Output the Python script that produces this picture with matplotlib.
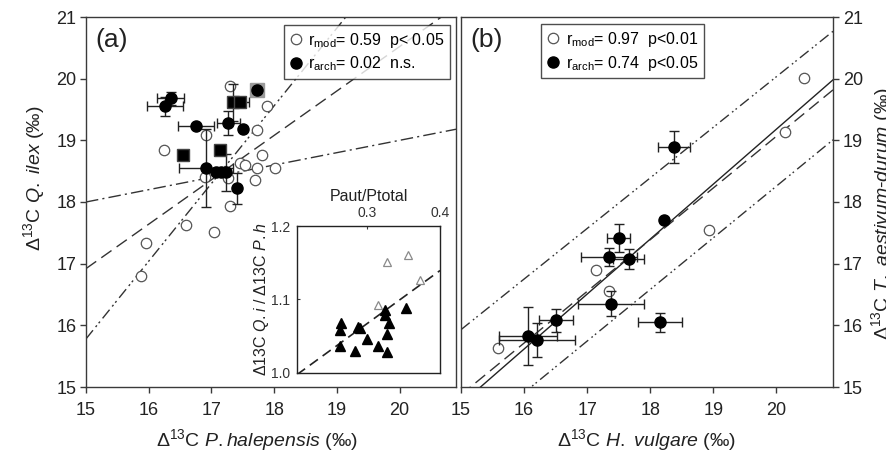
import numpy as np
import matplotlib
matplotlib.use("Agg")
import matplotlib.pyplot as plt
from matplotlib.lines import Line2D

plt.rcParams['font.family'] = ['Liberation Sans', 'DejaVu Sans']
plt.rcParams['mathtext.fontset'] = 'custom'
plt.rcParams['mathtext.rm'] = 'Liberation Sans'
plt.rcParams['mathtext.it'] = 'Liberation Sans:italic'

# ---------------- data: panel (a) ----------------
mod_a_x = [17.29, 17.88, 17.73, 16.91, 16.24, 17.80, 17.46, 17.54, 17.72, 18.01,
           16.90, 17.27, 17.70, 17.29, 16.60, 17.04, 15.96, 15.88]
mod_a_y = [19.88, 19.56, 19.16, 19.09, 18.84, 18.76, 18.63, 18.60, 18.55, 18.55,
           18.41, 18.39, 18.36, 17.93, 17.63, 17.51, 17.33, 16.80]

arch_a_x = [16.35, 16.26, 17.73, 16.75, 17.27, 17.51, 16.91, 17.07, 17.16, 17.24, 17.41]
arch_a_y = [19.68, 19.55, 19.81, 19.23, 19.28, 19.18, 18.55, 18.48, 18.48, 18.48, 18.22]
arch_a_xerr = [0.21, 0.28, 0.0, 0.29, 0.18, 0.0, 0.43, 0.0, 0.0, 0.0, 0.0]
arch_a_yerr = [0.10, 0.15, 0.0, 0.0, 0.19, 0.0, 0.63, 0.0, 0.0, 0.30, 0.25]

archsq_a_x = [16.55, 17.13, 17.35, 17.45]
archsq_a_y = [18.76, 18.84, 19.62, 19.62]
archsq_a_xerr = [0.0, 0.0, 0.0, 0.15]
archsq_a_yerr = [0.0, 0.0, 0.30, 0.0]

# regression / reference lines (intercept at x=15, slope)
lines_a_icpt = [18.00, 16.92, 15.78]
lines_a_slope = [0.20, 0.72, 1.26]

# ---------------- data: panel (b) ----------------
mod_b_x = [20.44, 20.14, 18.93, 17.14, 17.35, 15.58]
mod_b_y = [20.01, 19.14, 17.55, 16.90, 16.55, 15.63]

arch_b_x = [18.38, 18.22, 17.50, 17.35, 17.66, 17.38, 18.15, 16.51, 16.07, 16.21]
arch_b_y = [18.89, 17.71, 17.42, 17.11, 17.07, 16.35, 16.05, 16.08, 15.82, 15.76]
arch_b_xerr = [0.25, 0.0, 0.18, 0.44, 0.25, 0.53, 0.35, 0.27, 0.46, 0.60]
arch_b_yerr = [0.26, 0.0, 0.23, 0.15, 0.16, 0.20, 0.15, 0.18, 0.47, 0.27]

# lines: intercept at x=15, slope  (solid fit, dashed, upper CI, lower CI)
lines_b_icpt = [14.724, 14.874, 15.93, 14.07]
lines_b_slope = [0.891, 0.838, 0.820, 0.837]

# ---------------- data: inset ----------------
ins_mod_x = [0.328, 0.356, 0.373, 0.315]
ins_mod_y = [1.151, 1.161, 1.127, 1.093]
ins_arch_x = [0.325, 0.325, 0.354, 0.331, 0.328, 0.265, 0.263, 0.288, 0.291,
              0.300, 0.315, 0.263, 0.284, 0.328]
ins_arch_y = [1.086, 1.079, 1.089, 1.068, 1.053, 1.068, 1.059, 1.062, 1.061,
              1.046, 1.037, 1.037, 1.030, 1.028]
ins_line_icpt = 1.0      # at x = 0.208
ins_line_x0 = 0.208
ins_line_slope = 0.726

xticks_main = [15, 16, 17, 18, 19, 20]
yticks_main = [15, 16, 17, 18, 19, 20, 21]

legend_a = [r"r$_{\mathrm{mod}}$= 0.59  p< 0.05", r"r$_{\mathrm{arch}}$= 0.02  n.s."]
legend_b = [r"r$_{\mathrm{mod}}$= 0.97  p<0.01", r"r$_{\mathrm{arch}}$= 0.74  p<0.05"]

# ---------------- figure ----------------
W, H = 886, 459
fig = plt.figure(figsize=(W / 100, H / 100), dpi=100)

def fx(px):
    return px / W

def fy(py):
    return 1 - py / H

spine_col = '#3a3a3a'
txt_col = '#222222'
XL = (15, 20.9)
YL = (15, 21)

ax_a = fig.add_axes([fx(86), fy(387), (456 - 86) / W, (387 - 17) / H])
ax_b = fig.add_axes([fx(461), fy(387), (833 - 461) / W, (387 - 17) / H])

for ax in (ax_a, ax_b):
    ax.set_xlim(*XL)
    ax.set_ylim(*YL)
    ax.set_xticks(xticks_main)
    ax.set_yticks(yticks_main)
    for s in ax.spines.values():
        s.set_color(spine_col)
        s.set_linewidth(1.0)
    ax.tick_params(direction='out', length=4, width=1.0, color=spine_col,
                   labelsize=13, labelcolor=txt_col, pad=3)
    ax.tick_params(axis='x', pad=7)

ax_b.yaxis.tick_right()
ax_b.tick_params(axis='y', left=False, right=True, labelleft=False, labelright=True)

open_kw = dict(ls='none', marker='o', ms=7.5, mfc='white', mec='#555555', mew=0.9)
fill_kw = dict(fmt='o', ms=8, mfc='black', mec='black', ecolor='#222222',
               elinewidth=1.0, capsize=3.5, capthick=1.0)

xx = np.linspace(XL[0], XL[1], 200)

# ----- panel (a) -----
styles_a = [(0, (9, 3, 1.5, 3)), (0, (9, 4.5)), (0, (8, 3, 1.5, 2, 1.5, 3))]
for b0, m, st in zip(lines_a_icpt, lines_a_slope, styles_a):
    ax_a.plot(xx, b0 + m * (xx - 15), color='#333333', lw=1.0, ls=st, zorder=1)

ax_a.plot(mod_a_x, mod_a_y, zorder=3, **open_kw)
ax_a.plot([arch_a_x[2]], [arch_a_y[2]], ls='none', marker='s', ms=10,
          mfc='#9a9a9a', mec='#9a9a9a', zorder=3)
ax_a.errorbar(arch_a_x, arch_a_y, xerr=arch_a_xerr, yerr=arch_a_yerr, zorder=4, **fill_kw)
sq_kw = dict(fill_kw)
sq_kw['fmt'] = 's'
sq_kw['ms'] = 8
sq_kw['mec'] = '#444444'
ax_a.errorbar(archsq_a_x, archsq_a_y, xerr=archsq_a_xerr, yerr=archsq_a_yerr, zorder=4, **sq_kw)

ax_a.text(0.025, 0.97, "(a)", transform=ax_a.transAxes, fontsize=19,
          va='top', ha='left', color=txt_col)

h_open = Line2D([], [], **open_kw)
h_fill = Line2D([], [], ls='none', marker='o', ms=8, mfc='black', mec='black')

leg_kw = dict(fontsize=11.5, frameon=True, fancybox=False, handlelength=0.8,
              handletextpad=0.4, borderpad=0.35, labelspacing=0.3,
              borderaxespad=0.0)
leg_a = ax_a.legend([h_open, h_fill], legend_a, loc='upper right',
                    bbox_to_anchor=(0.985, 0.978), **leg_kw)
leg_a.get_frame().set_edgecolor('#222222')
leg_a.get_frame().set_linewidth(1.0)
leg_a.set_zorder(6)

# ----- panel (b) -----
styles_b = ['-', (0, (9, 4.5)), (0, (8, 3, 1.2, 2, 1.2, 3)), (0, (8, 3, 1.2, 2, 1.2, 3))]
cols_b = ['#222222', '#333333', '#333333', '#333333']
for b0, m, st, c in zip(lines_b_icpt, lines_b_slope, styles_b, cols_b):
    ax_b.plot(xx, b0 + m * (xx - 15), color=c, lw=1.0, ls=st, zorder=1)

ax_b.plot(mod_b_x, mod_b_y, zorder=3, **open_kw)
ax_b.errorbar(arch_b_x, arch_b_y, xerr=arch_b_xerr, yerr=arch_b_yerr, zorder=4, **fill_kw)

ax_b.text(0.025, 0.97, "(b)", transform=ax_b.transAxes, fontsize=19,
          va='top', ha='left', color=txt_col)
leg_b = ax_b.legend([h_open, h_fill], legend_b, loc='upper left',
                    bbox_to_anchor=(0.215, 0.98), **leg_kw)
leg_b.get_frame().set_edgecolor('#222222')
leg_b.get_frame().set_linewidth(1.0)

# ----- axis labels -----
fig.text(fx(34), fy(178), r"$\Delta^{13}$C $\it{Q.\ ilex}$ (‰)", rotation=90,
         ha='center', va='center', fontsize=14, color=txt_col)
fig.text(fx(257), fy(440), r"$\Delta^{13}$C $\it{P.halepensis}$ (‰)",
         ha='center', va='center', fontsize=14, color=txt_col)
fig.text(fx(647), fy(440), r"$\Delta^{13}$C $\it{H.\ vulgare}$ (‰)",
         ha='center', va='center', fontsize=14, color=txt_col)
fig.text(fx(882), fy(214), r"$\Delta^{13}$C $\it{T.\ aestivum}$-$\it{durum}$ (‰)",
         rotation=90, ha='center', va='center', fontsize=14, color=txt_col)

# ----- inset -----
ax_i = fig.add_axes([fx(297), fy(373), (440 - 297) / W, (373 - 226) / H])
ax_i.set_xlim(0.205, 0.400)
ax_i.set_ylim(1.0, 1.2)
ax_i.set_xticks([0.3, 0.4])
ax_i.set_xticklabels(['0.3', '0.4'])
ax_i.set_yticks([1.0, 1.1, 1.2])
ax_i.set_yticklabels(['1.0', '1.1', '1.2'])
ax_i.xaxis.tick_top()
ax_i.xaxis.set_label_position('top')
ax_i.tick_params(axis='x', top=True, bottom=False, direction='in', length=2,
                 labelsize=10, labelcolor='#333333', color=spine_col, pad=4)
ax_i.tick_params(axis='y', direction='in', length=2, labelsize=10,
                 labelcolor='#333333', color=spine_col, pad=5)
for s in ax_i.spines.values():
    s.set_color('#222222')
    s.set_linewidth(1.0)
ax_i.set_xlabel("Paut/Ptotal", fontsize=11.5, color=txt_col, labelpad=4)
ax_i.set_ylabel(r"$\Delta$13C $\it{Q.i}$ / $\Delta$13C $\it{P.h}$", fontsize=11.5,
                color=txt_col, labelpad=0)

xi = np.linspace(0.205, 0.400, 50)
ax_i.plot(xi, ins_line_icpt + ins_line_slope * (xi - ins_line_x0), color='#222222',
          lw=1.2, ls=(0, (6, 3.5)), zorder=1)
ax_i.plot(ins_mod_x, ins_mod_y, ls='none', marker='^', ms=6, mfc='white',
          mec='#8a8a8a', mew=0.9, zorder=3)
ax_i.plot(ins_arch_x, ins_arch_y, ls='none', marker='^', ms=6.5, mfc='black',
          mec='black', zorder=3)

fig.savefig("out.png", dpi=100)
